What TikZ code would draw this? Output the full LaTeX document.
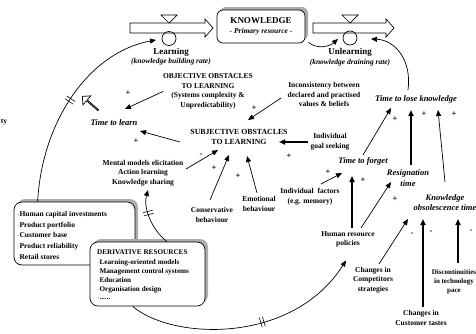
\documentclass[tikz,border=0pt]{standalone}
\usepackage{fontspec}
\setmainfont{Liberation Serif}
\usetikzlibrary{arrows.meta,shapes.arrows,shadows,decorations.markings,calc}

\begin{document}
\begin{tikzpicture}[x=1pt,y=-1pt,
  every node/.style={inner sep=0pt, align=center, font=\bfseries\fontsize{7.5}{9.6}\selectfont},
  var/.style={font=\bfseries\itshape\fontsize{8.5}{10.5}\selectfont},
  sgn/.style={font=\bfseries\fontsize{8.5}{9}\selectfont},
  link/.style={-{Triangle[length=6pt,width=5pt]}, line width=0.7pt},
  heavy/.style={link, line width=1.6pt},
  delay/.style={postaction={decorate}, decoration={markings,
      mark=at position #1 with {\draw[line width=0.6pt,-] (-1.6pt,-5pt)--(-1.6pt,5pt) (1.6pt,-5pt)--(1.6pt,5pt);}}},
  resbox/.style={draw, line width=0.7pt, fill=white, rounded corners=8pt,
      drop shadow={shadow xshift=3pt, shadow yshift=3pt, fill=gray!65, opacity=1}},
  pipe/.style={draw, line width=0.7pt, fill=white},
  valve/.style={draw, circle, line width=0.7pt, minimum size=14pt},
  hollow/.style={draw, line width=0.7pt, fill=white, single arrow, minimum height=21pt,
      minimum width=12pt, single arrow head extend=3pt},
]
\path[use as bounding box] (0,0) rectangle (476,333);
\clip (0,0) rectangle (476,333);

% stock and its two flows
\node[resbox, rounded corners=6pt, minimum width=88pt, minimum height=33pt] (know) at (261,26.5)
  {\fontsize{9}{12}\selectfont KNOWLEDGE\\\itshape\fontsize{7.5}{9}\selectfont - Primary resource -};

\draw[pipe] (130,23) -- (205,23) -- (205,19) -- (213,28) -- (205,37) -- (205,33) -- (130,33) -- cycle;
\draw[pipe] (161,15) -- (177,15) -- (169,23) -- cycle;
\node[valve] (learn) at (169,38.5) {};
\node[font=\bfseries\fontsize{9}{10}\selectfont] (learnlbl) at (171,52) {Learning};
\node[font=\bfseries\itshape\fontsize{7.5}{9}\selectfont] (learnsub) at (171,62) {(knowledge building rate)};

\draw[pipe] (313,23) -- (386,23) -- (386,19) -- (394,28) -- (386,37) -- (386,33) -- (313,33) -- cycle;
\draw[pipe] (342,15) -- (358,15) -- (350,23) -- cycle;
\node[valve] (unlearn) at (350,38) {};
\node[font=\bfseries\fontsize{9}{10}\selectfont] (unlearnlbl) at (350,52) {Unlearning};
\node[font=\bfseries\itshape\fontsize{7.5}{9}\selectfont] (unlearnsub) at (350,63) {(knowledge draining rate)};

% resource boxes
\node[resbox, minimum width=121pt, minimum height=63pt] (capbox) at (74.5,233.5) {};
\node[anchor=north west, align=left, font=\bfseries\fontsize{7.5}{10.75}\selectfont] (captext) at (17,211)
  {$\cdot$Human capital investments\\$\cdot$Product portfolio\\$\cdot$Customer base\\$\cdot$Product reliability\\$\cdot$Retail stores};
\node[resbox, minimum width=115pt, minimum height=64pt] (derivbox) at (147.5,274) {};
\node[anchor=north west, align=left, font=\bfseries\fontsize{7.2}{8.8}\selectfont] (derivtext) at (97,250)
  {DERIVATIVE RESOURCES\\[1pt]$\cdot$Learning-oriented models\\$\cdot$Management control systems\\$\cdot$Education\\$\cdot$Organisation design\\$\cdot$......};

% variables and factors
\node (objobs) at (208,91.5) {OBJECTIVE OBSTACLES\\TO LEARNING\\(Systems complexity \&\\Unpredictability)};
\node[var] (ttlearn) at (114,123) {Time to learn};
\node[font=\bfseries\fontsize{7.8}{10}\selectfont] (subobs) at (239,137) {SUBJECTIVE OBSTACLES\\TO LEARNING};
\node (incons) at (324,94.5) {Inconsistency between\\declared and practised\\values \& beliefs};
\node (goal) at (330,141.5) {Individual\\goal seeking};
\node (mental) at (143,173) {Mental models elicitation\\Action learning\\Knowledge sharing};
\node (conserv) at (212,215) {Conservative\\behaviour};
\node (emot) at (259,204) {Emotional\\behaviour};
\node[var] (ttforget) at (363,161) {Time to forget};
\node[var] (ttlk) at (416,99) {Time to lose knowledge};
\node[var] (resign) at (408,178) {Resignation\\time};
\node[var] (obsol) at (445,202.5) {Knowledge\\obsolescence time};
\node (indiv) at (310,196.5) {Individual~ factors\\(e.g. memory)};
\node (hr) at (348,239.5) {Human resource\\policies};
\node (comp) at (373,280) {Changes in\\Competitors\\strategies};
\node (cust) at (421,318) {Changes in\\Customer tastes};
\node[font=\bfseries\fontsize{7}{9.2}\selectfont] (disc) at (454,282) {Discontinuities\\in technology\\pace};
\node (cut) at (4,122) {ty};

% causal links
\draw[link] ($(objobs)+(-45,0)$) -- ($(ttlearn)+(11,-14)$);
\draw[link] ($(subobs)+(-59,5)$) -- ($(ttlearn)+(26,8)$);
\draw[link] ($(incons)+(-43,3.5)$) -- ($(subobs)+(9,-17)$);
\draw[heavy] ($(goal)+(-22,0.5)$) -- ($(subobs)+(40,5)$);
\draw[link] ($(mental)+(43,-4)$) -- ($(subobs)+(-21,13)$);
\draw[link] ($(conserv)+(-2,-15)$) -- ($(subobs)+(-10,18)$);
\draw[link] ($(emot)+(-2,-11)$) -- ($(subobs)+(8,19)$);
\draw[link] ($(indiv)+(11,-12.5)$) -- ($(ttforget)+(-21,12)$);
\draw[heavy] ($(hr)+(4,-11.5)$) -- ($(ttforget)+(-11,15)$);
\draw[link] ($(hr)+(13,-11.5)$) -- ($(resign)+(-17,4)$);
\draw[link] ($(ttforget)+(0,-6)$) -- ($(ttlk)+(-25,9)$);
\draw[heavy] ($(resign)+(3,-13)$) -- ($(ttlk)+(-5,11)$);
\draw[link] ($(obsol)+(0,-20.5)$) -- ($(ttlk)+(22,11)$);
\draw[link] ($(comp)+(6,-16)$) -- ($(obsol)+(-37,16.5)$);
\draw[heavy] ($(cust)+(2,-11)$) -- ($(obsol)+(-22,16.5)$);
\draw[heavy] ($(disc)+(4,-19)$) -- ($(obsol)+(13,16.5)$);

% curved links to the flows and from the resources
\draw[link] ($(ttlk)+(-8,-9)$) .. controls (412,60) and (395,40) .. ($(unlearn)+(21,1)$);
\draw[link] ($(know.south east)+(3,-1)$) .. controls (318,50) and (330,46) .. ($(unlearn)+(-12,1)$);
\draw[link, delay=0.5] ($(capbox.north west)+(24,0)$) .. controls (42,120) and (90,52) .. ($(learn)+(-13,1.5)$);
\draw[link, delay=0.6] ($(derivbox.north)+(19.5,0)$) .. controls (152,230) and (143,208) .. ($(mental)+(5,17)$);
\draw[link, delay=0.56] ($(derivbox.south west)+(43,0)$) .. controls (172,340) and (292,345) .. ($(hr)+(-2,21)$);

% pressure on the learning flow
\node[hollow, rotate=139] (push) at (90.5,103.5) {};

% polarities
\node[sgn] (s1) at (128,93) {+};
\node[sgn] (s2) at (136,141) {+};
\node[sgn] (s3) at (254,108) {+};
\node[sgn] (s4) at (289,156) {+};
\node[sgn] (s5) at (201,155) {-};
\node[sgn] (s6) at (214,168) {+};
\node[sgn] (s7) at (238,176) {+};
\node[sgn] (s8) at (328,172) {+};
\node[sgn] (s9) at (363,180) {+};
\node[sgn] (s10) at (395,199) {+};
\node[sgn] (s11) at (395,119) {+};
\node[sgn] (s12) at (424,114) {+};
\node[sgn] (s13) at (454,114) {+};
\node[sgn] (s14) at (412,234) {-};
\node[sgn] (s15) at (431,232) {-};
\node[sgn] (s16) at (471,231) {-};
\end{tikzpicture}
\end{document}
